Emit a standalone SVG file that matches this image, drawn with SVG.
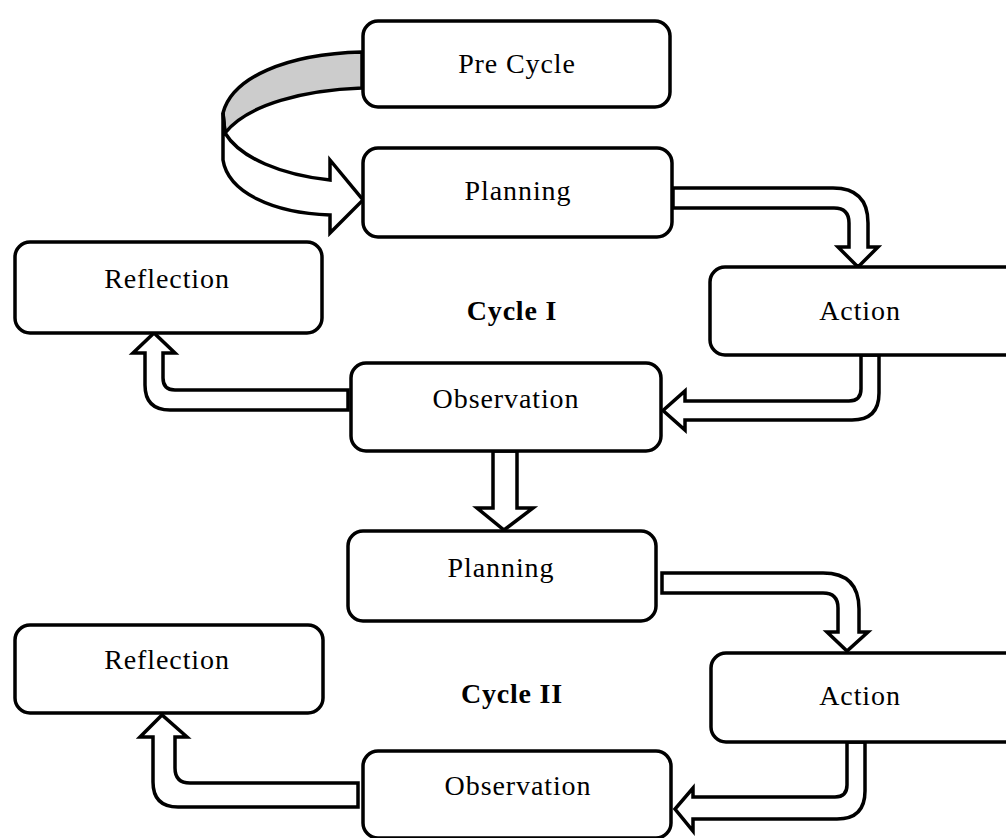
<svg xmlns="http://www.w3.org/2000/svg" width="1006" height="838" viewBox="0 0 1006 838">
<style>
.box{fill:#fff;stroke:#000;stroke-width:3.5}
.arr{fill:#fff;stroke:#000;stroke-width:3.5;stroke-linejoin:miter}
.gray{fill:#cccccc;stroke:#000;stroke-width:3.5}
.t{font-family:"Liberation Serif","Times New Roman",serif;font-size:28px;letter-spacing:0.9px;text-anchor:middle;fill:#000}
.b{font-family:"Liberation Serif","Times New Roman",serif;font-size:28px;font-weight:bold;letter-spacing:0.8px;text-anchor:middle;fill:#000}
</style>
<rect width="1006" height="838" fill="#fff"/>
<g id="connectors">
<path class="gray" d="M 362 52 C 285 54 232 78 223 113 L 225 133 C 248 104 305 90 362 88 Z"/>
<path class="arr" d="M 223 113 L 223 160 C 228 192 272 213 330 215 L 330 233 L 363 200 L 330 160 L 330 180 C 282 175 240 158 225 133 Z"/>
<path class="arr" d="M 673 188 L 833 188 Q 868 188 868 223 L 868 247 L 878 247 L 858 267 L 838 247 L 849 247 L 849 223 Q 849 208 834 208 L 673 208 Z"/>
<path class="arr" d="M 861 355 L 861 389 Q 861 401 849 401 L 685 401 L 685 391 L 663 410.5 L 685 430 L 685 420 L 852 420 Q 879 420 879 393 L 879 355 Z"/>
<path class="arr" d="M 348 390 L 175 390 Q 163 390 163 378 L 163 353 L 175 353 L 154 333 L 133 353 L 145 353 L 145 385 Q 145 410 170 410 L 348 410 Z"/>
<path class="arr" d="M 493 451 L 493 508 L 477 508 L 504 530 L 533 508 L 517 508 L 517 451 Z"/>
<path class="arr" d="M 662 573 L 823 573 Q 859 573 859 609 L 859 632 L 868 632 L 847 651 L 827 632 L 838 632 L 838 608 Q 838 593 823 593 L 662 593 Z"/>
<path class="arr" d="M 847 742 L 847 785 Q 847 797 835 797 L 693 797 L 693 788 L 675 809 L 693 831 L 693 819 L 837 819 Q 865 819 865 791 L 865 742 Z"/>
<path class="arr" d="M 358 783 L 190 783 Q 175 783 175 768 L 175 737 L 187 737 L 162 715 L 140 737 L 153 737 L 153 782 Q 153 807 178 807 L 358 807 Z"/>
</g>
<g id="pre-cycle"><rect class="box" x="363" y="21" width="307" height="86" rx="15"/><text class="t" x="517" y="73">Pre Cycle</text></g>
<g id="planning-1"><rect class="box" x="363" y="148" width="309" height="89" rx="15"/><text class="t" x="518" y="200">Planning</text></g>
<g id="reflection-1"><rect class="box" x="15" y="242" width="307" height="91" rx="15"/><text class="t" x="167" y="288">Reflection</text></g>
<g id="cycle-1"><text class="b" x="512" y="320">Cycle I</text></g>
<g id="action-1"><rect class="box" x="710" y="267" width="310" height="88" rx="15"/><text class="t" x="860" y="320">Action</text></g>
<g id="observation-1"><rect class="box" x="351" y="363" width="310" height="88" rx="15"/><text class="t" x="506" y="408">Observation</text></g>
<g id="planning-2"><rect class="box" x="348" y="531" width="308" height="90" rx="15"/><text class="t" x="501" y="577">Planning</text></g>
<g id="reflection-2"><rect class="box" x="15" y="625" width="308" height="88" rx="15"/><text class="t" x="167" y="669">Reflection</text></g>
<g id="cycle-2"><text class="b" x="512" y="703">Cycle II</text></g>
<g id="action-2"><rect class="box" x="711" y="653" width="310" height="89" rx="15"/><text class="t" x="860" y="705">Action</text></g>
<g id="observation-2"><rect class="box" x="363" y="751" width="308" height="87" rx="15"/><text class="t" x="518" y="795">Observation</text></g>
</svg>
